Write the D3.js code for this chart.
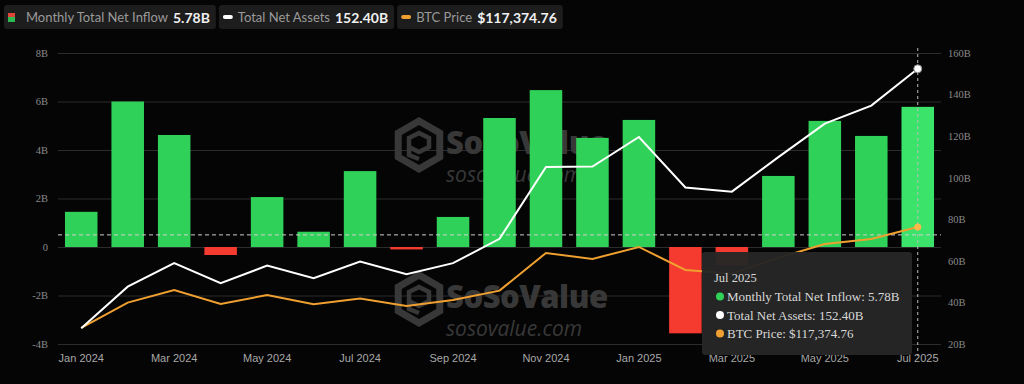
<!DOCTYPE html>
<html>
  <head>
    <meta charset="utf-8">
    <title>Bitcoin spot ETF monthly net inflow</title>
    <script type="text/javascript" src="https://d3js.org/d3.v7.min.js"></script>
    <style>
      body { margin: 0; background: #050505; }
    </style>
  </head>

  <body>
    <script>

    var months = ["Jan 2024", "Feb 2024", "Mar 2024", "Apr 2024", "May 2024", "Jun 2024", "Jul 2024",
                  "Aug 2024", "Sep 2024", "Oct 2024", "Nov 2024", "Dec 2024", "Jan 2025", "Feb 2025",
                  "Mar 2025", "Apr 2025", "May 2025", "Jun 2025", "Jul 2025"];
    var netInflow = [1.45, 6.0, 4.62, -0.33, 2.06, 0.63, 3.13, -0.1, 1.24, 5.32, 6.47, 4.5, 5.24, -3.56,
                     -0.77, 2.93, 5.2, 4.58, 5.78];                       // B USD
    var netAssets = [27.6, 47.6, 58.9, 49.3, 57.7, 51.7, 59.7, 53.6, 58.9, 70.6, 105.2, 105.4, 119.6,
                     95.3, 93.3, 109.9, 126.0, 134.7, 152.4];             // B USD
    var btcPrice = [41700, 60700, 70200, 59700, 66400, 59500, 63700, 58200, 62700, 69700, 97900, 93400,
                    102400, 85200, 82500, 94200, 104600, 108400, 117374.76];
    var leftTicks = [-4, -2, 0, 2, 4, 6, 8];
    var rightTicks = [20, 40, 60, 80, 100, 120, 140, 160];
    var xTickLabels = ["Jan 2024", "Mar 2024", "May 2024", "Jul 2024", "Sep 2024", "Nov 2024",
                       "Jan 2025", "Mar 2025", "May 2025", "Jul 2025"];
    var hoverMonth = "Jul 2025";
    var hoverLevel = 0.5;                                                // dashed crosshair, left axis

    var width = 1024, height = 384;
    var plotL = 58, plotR = 941, plotT = 53, plotB = 344;

    var x = d3.scaleBand().domain(months).range([plotL, plotR]).paddingInner(0.3).paddingOuter(0.15);
    var yL = d3.scaleLinear().domain([-4, 8]).range([plotB, plotT]);
    var yR = d3.scaleLinear().domain([20, 160]).range([plotB, plotT]);
    var yP = d3.scaleLinear().domain([29700, 247700]).range([plotB, plotT]);   // hidden price axis
    var cx = function(m) { return x(m) + x.bandwidth() / 2; };

    var green = "#30d158", red = "#f53b30", orange = "#f0a030";

    var svg = d3.select("body").append("svg")
                .attr("width", width).attr("height", height)
                .style("display", "block")
                .style("background", "#050505");

    // gridlines + left axis
    var yAxisL = d3.axisLeft(yL).tickValues(leftTicks).tickSize(-(plotR - plotL)).tickPadding(10)
                   .tickFormat(function(d) { return d === 0 ? "0" : d + "B"; });
    var gl = svg.append("g").attr("transform", "translate(" + plotL + ",0)").call(yAxisL);
    gl.select(".domain").remove();
    gl.selectAll("line").attr("stroke", "#2c2c2c");
    gl.selectAll("text").attr("fill", "#8a8a8a").style("font-family", "Liberation Serif").style("font-size", "10.5px");

    var yAxisR = d3.axisRight(yR).tickValues(rightTicks).tickSize(0).tickPadding(7)
                   .tickFormat(function(d) { return d + "B"; });
    var gr = svg.append("g").attr("transform", "translate(" + plotR + ",0)").call(yAxisR);
    gr.select(".domain").remove();
    gr.selectAll("text").attr("fill", "#8a8a8a").style("font-family", "Liberation Serif").style("font-size", "10.5px");

    var xAxis = d3.axisBottom(x).tickValues(xTickLabels).tickSize(0).tickPadding(10);
    var gx = svg.append("g").attr("transform", "translate(0," + plotB + ")").call(xAxis);
    gx.select(".domain").remove();
    gx.selectAll("text").attr("fill", "#a8a8a8").style("font-family", "Liberation Sans").style("font-size", "11px");

    // watermark
    function watermark(y0) {
      var g = svg.append("g").attr("transform", "translate(419," + y0 + ")").attr("fill", "#383838");
      var hex = d3.range(6).map(function(i) {
        var a = Math.PI / 3 * i - Math.PI / 2;
        return [24 * Math.cos(a), 24 * Math.sin(a)];
      });
      g.append("path").attr("d", "M" + hex.join("L") + "Z")
       .attr("fill", "none").attr("stroke", "#383838").attr("stroke-width", 7);
      g.append("path").attr("d", "M-10,-7 L0,-12 L10,-7 L10,2 L0,7 L-10,2 Z M-10,2 L-10,10 L0,14")
       .attr("fill", "none").attr("stroke", "#383838").attr("stroke-width", 4.5);
      g.append("text").attr("x", 27).attr("y", 9).text("SoSoValue")
       .style("font-family", "Open Sans").style("font-weight", "800").style("font-size", "31px")
       .style("letter-spacing", "-0.5px");
      g.append("text").attr("x", 27).attr("y", 37).text("sosovalue.com")
       .style("font-family", "Open Sans").style("font-style", "italic").style("font-size", "21px");
    }
    watermark(145);
    watermark(299);

    // bars
    svg.selectAll("rect.bar")
       .data(netInflow)
       .enter()
         .append("rect")
         .attr("class", "bar")
         .attr("x", function(d, i) { return x(months[i]); })
         .attr("width", x.bandwidth())
         .attr("y", function(d) { return yL(Math.max(0, d)); })
         .attr("height", function(d) { return Math.abs(yL(d) - yL(0)); })
         .attr("fill", function(d, i) { return d < 0 ? red : (months[i] === hoverMonth ? "#3be36a" : green); });

    // crosshair
    svg.append("line").attr("x1", plotL).attr("x2", plotR).attr("y1", yL(hoverLevel)).attr("y2", yL(hoverLevel))
       .attr("stroke", "#cfcfcf").attr("stroke-dasharray", "4,3").attr("stroke-width", 1);
    svg.append("line").attr("x1", cx(hoverMonth)).attr("x2", cx(hoverMonth)).attr("y1", plotT - 5).attr("y2", 356)
       .attr("stroke", "#bdbdbd").attr("stroke-dasharray", "3,3").attr("stroke-width", 1);

    // lines
    var assetLine = d3.line().x(function(d, i) { return cx(months[i]); }).y(function(d) { return yR(d); });
    var priceLine = d3.line().x(function(d, i) { return cx(months[i]); }).y(function(d) { return yP(d); });

    svg.append("path").datum(btcPrice).attr("d", priceLine)
       .attr("fill", "none").attr("stroke", orange).attr("stroke-width", 2);
    svg.append("path").datum(netAssets).attr("d", assetLine)
       .attr("fill", "none").attr("stroke", "#ffffff").attr("stroke-width", 2);

    var last = months.length - 1;
    svg.append("circle").attr("cx", cx(months[last])).attr("cy", yR(netAssets[last])).attr("r", 4)
       .attr("fill", "#ffffff").attr("stroke", "#888").attr("stroke-width", 1);
    svg.append("circle").attr("cx", cx(months[last])).attr("cy", yP(btcPrice[last])).attr("r", 3.5)
       .attr("fill", "#ffb84a");

    // tooltip
    var tip = svg.append("g").attr("transform", "translate(702,252)");
    tip.append("rect").attr("width", 210).attr("height", 103).attr("rx", 3)
       .attr("fill", "#262626").attr("fill-opacity", 0.97);
    tip.append("text").attr("x", 12).attr("y", 30).text(hoverMonth)
       .attr("fill", "#d8d8d8").style("font-family", "Liberation Serif").style("font-size", "12.5px");
    var rows = [
      [green, "Monthly Total Net Inflow: " + netInflow[last].toFixed(2) + "B"],
      ["#ffffff", "Total Net Assets: " + netAssets[last].toFixed(2) + "B"],
      [orange, "BTC Price: $" + d3.format(",.2f")(btcPrice[last])]
    ];
    rows.forEach(function(r, i) {
      tip.append("circle").attr("cx", 18).attr("cy", 44.5 + i * 18.5).attr("r", 4).attr("fill", r[0]);
      tip.append("text").attr("x", 25).attr("y", 49 + i * 18.5).text(r[1])
         .attr("fill", "#d8d8d8").style("font-family", "Liberation Serif").style("font-size", "13px");
    });

    // legend
    var legendItems = [
      { label: "Monthly Total Net Inflow", value: netInflow[last].toFixed(2) + "B", icon: "split" },
      { label: "Total Net Assets", value: netAssets[last].toFixed(2) + "B", icon: "#ffffff" },
      { label: "BTC Price", value: "$" + d3.format(",.2f")(btcPrice[last]), icon: orange }
    ];
    var lx = 4;
    legendItems.forEach(function(item) {
      var g = svg.append("g").attr("transform", "translate(" + lx + ",5)");
      var bg = g.append("rect").attr("height", 24).attr("rx", 3).attr("fill", "#1d1d1d");
      var tx;
      if (item.icon === "split") {
        g.append("rect").attr("x", 4).attr("y", 8).attr("width", 7).attr("height", 4).attr("fill", "#e0453a");
        g.append("rect").attr("x", 4).attr("y", 12).attr("width", 7).attr("height", 5).attr("fill", "#2fb84f");
        tx = 22;
      } else {
        g.append("rect").attr("x", 4).attr("y", 10).attr("width", 10).attr("height", 4).attr("rx", 2).attr("fill", item.icon);
        tx = 19;
      }
      var t1 = g.append("text").attr("x", tx).attr("y", 17).text(item.label)
                .attr("fill", "#9a9a9a").style("font-family", "Lato").style("font-size", "13px");
      var w1 = t1.node().getComputedTextLength();
      var t2 = g.append("text").attr("x", tx + w1 + 5).attr("y", 17.5).text(item.value)
                .attr("fill", "#f0f0f0").style("font-family", "Lato").style("font-weight", "bold").style("font-size", "14px");
      var w = tx + w1 + 5 + t2.node().getComputedTextLength() + 6;
      bg.attr("width", w);
      lx += w + 3;
    });

  </script>
  </body>
</html>
